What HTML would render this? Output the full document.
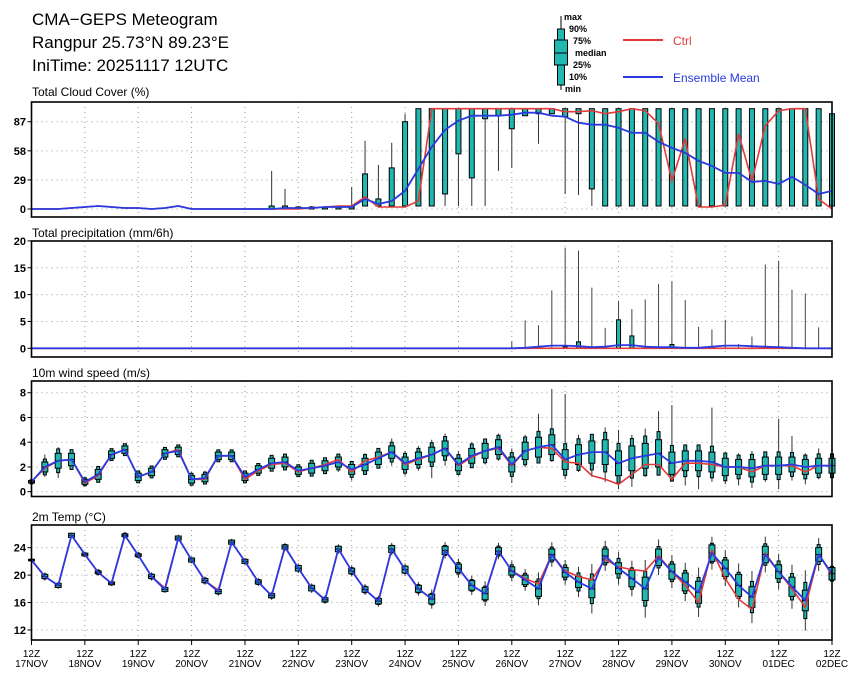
<!DOCTYPE html>
<html><head><meta charset="utf-8"><style>
body{margin:0;background:#fff;}
svg{display:block;font-family:"Liberation Sans",sans-serif;}
</style></head><body>
<svg id="chart" width="860" height="679" viewBox="0 0 860 679" xmlns="http://www.w3.org/2000/svg">
<rect width="860" height="679" fill="#fff"/>
<g font-size="17" fill="#000">
<text x="32" y="25">CMA−GEPS Meteogram</text>
<text x="32" y="48">Rangpur 25.73°N 89.23°E</text>
<text x="32" y="71">IniTime: 20251117 12UTC</text>
</g>
<g font-size="9" font-weight="bold">
<line x1="561" y1="16" x2="561" y2="90" stroke="#000" stroke-width="1"/>
<rect x="557.5" y="29" width="7" height="56" fill="#20b8b0" stroke="#000" stroke-width="1"/>
<rect x="554.5" y="40" width="13" height="25" fill="#20b8b0" stroke="#000" stroke-width="1"/>
<line x1="554.5" y1="53" x2="567.5" y2="53" stroke="#000"/>
<text x="564" y="20">max</text><text x="569" y="32">90%</text><text x="573" y="44">75%</text>
<text x="575" y="56">median</text><text x="573" y="68">25%</text><text x="569" y="80">10%</text><text x="565" y="92">min</text>
<line x1="623" y1="40" x2="663" y2="40" stroke="#e03a3a" stroke-width="2"/>
<text x="673" y="45" font-size="12" font-weight="normal" fill="#e03a3a">Ctrl</text>
<line x1="623" y1="77" x2="663" y2="77" stroke="#2a3ae0" stroke-width="2"/>
<text x="673" y="82" font-size="12" font-weight="normal" fill="#2a3ae0">Ensemble Mean</text>
</g>
<g id="panels"></g>
</svg>
<script>
// ---- data (61 steps, every 6h from 17NOV 12Z) ----
const days = ["17NOV","18NOV","19NOV","20NOV","21NOV","22NOV","23NOV","24NOV","25NOV","26NOV","27NOV","28NOV","29NOV","30NOV","01DEC","02DEC"];
const cloudMean = [0,0,0,1,2,3,2,1,1,0,1,3,0,0,0,0,0,0,0,1,1,1,2,2,2,10,5,8,18,40,62,79,88,93,93,93,94,96,96,93,92,86,84,84,81,76,76,67,61,56,48,43,36,36,27,28,25,32,24,15,18];
const cloudCtrl = [0,0,0,1,2,3,2,1,1,0,1,3,0,0,0,0,0,0,0,0,0,1,2,3,3,12,2,2,2,8,100,100,100,100,100,100,100,100,100,100,97,97,98,95,97,100,98,85,28,70,2,2,4,75,28,83,98,100,100,10,0];
const cloudLo = [0,0,0,0,0,0,0,0,0,0,0,0,0,0,0,0,0,0,0,0,0,0,0,0,0,3,3,3,3,3,3,15,55,31,90,93,80,93,95,95,92,95,20,3,3,3,3,3,3,3,3,3,3,3,3,3,3,3,3,3,3];
const cloudHi = [0,0,0,0,0,0,0,0,0,0,0,0,0,0,0,0,0,0,3,3,2,2,2,2,2,35,10,41,87,100,100,100,100,100,100,100,100,100,100,100,100,100,100,100,100,100,100,100,100,100,100,100,100,100,100,100,100,100,100,100,95];
const cloudMax = [0,0,0,0,0,0,0,0,0,0,0,0,0,0,0,0,0,0,38,20,3,3,3,3,22,68,44,66,95,100,100,100,100,100,100,100,100,100,100,100,100,100,100,100,100,100,100,100,100,100,100,100,100,100,100,100,100,100,100,100,100];
const cloudMin = [0,0,0,0,0,0,0,0,0,0,0,0,0,0,0,0,0,0,0,0,0,0,0,0,0,3,3,3,3,3,3,3,3,3,3,38,41,93,65,95,15,14,3,3,3,3,3,3,3,3,3,3,3,3,3,3,3,3,3,3,3];
const precMean = [0,0,0,0,0,0,0,0,0,0,0,0,0,0,0,0,0,0,0,0,0,0,0,0,0,0,0,0,0,0,0,0,0,0,0,0,0,0.1,0.3,0.5,0.5,0.4,0.2,0.3,0.6,0.6,0.3,0.2,0.2,0.1,0.1,0.3,0.5,0.5,0.4,0.3,0.2,0.1,0,0,0];
const precHi = [0,0,0,0,0,0,0,0,0,0,0,0,0,0,0,0,0,0,0,0,0,0,0,0,0,0,0,0,0,0,0,0,0,0,0,0,0,0,0,0,0.3,1.2,0,0,5.3,2.3,0,0,0.7,0,0,0,0,0,0,0,0,0,0,0,0];
const precMax = [0,0,0,0,0,0,0,0,0,0,0,0,0,0,0,0,0,0,0,0,0,0,0,0,0,0,0,0,0,0,0,0,0,0,0,0,1.3,5.2,4.3,10.8,18.7,18.2,11.3,3.8,8.8,7.3,9.1,12,12.5,9,4,3.5,5.3,0.8,2.2,15.6,16.3,10.9,10.2,3.9,0];
const windMean = [0.8,2.0,2.5,2.6,0.8,1.4,3.0,3.4,1.2,1.6,3.1,3.3,1.0,1.1,2.9,2.9,1.2,1.8,2.3,2.4,1.7,1.9,2.1,2.4,1.8,2.2,2.7,3.2,2.3,2.7,3.0,3.5,2.2,2.9,3.3,3.6,2.2,3.3,3.6,3.8,2.6,3.0,3.2,3.2,2.3,2.7,2.9,3.1,2.3,2.5,2.5,2.4,2.0,2.0,1.9,2.1,2.1,2.2,2.0,2.1,2.1];
const windCtrl = [0.8,1.9,2.5,2.6,0.7,1.3,3.0,3.4,1.2,1.6,3.1,3.4,1.0,1.0,2.9,2.9,1.0,1.7,2.2,2.3,1.6,1.9,2.2,2.6,1.6,2.5,2.8,3.2,2.2,2.6,3.0,3.5,2.1,2.8,3.3,3.5,2.1,3.3,3.6,3.5,2.4,2.3,1.3,1.0,0.6,1.4,2.2,2.2,1.0,2.3,2.3,2.2,2.0,2.0,1.6,2.1,2.1,2.1,1.6,2.1,2.1];
const windIqr = [0.1,0.4,0.6,0.5,0.2,0.4,0.3,0.3,0.3,0.3,0.3,0.3,0.3,0.3,0.3,0.3,0.3,0.3,0.4,0.4,0.3,0.4,0.4,0.4,0.4,0.5,0.5,0.5,0.5,0.5,0.6,0.6,0.5,0.6,0.6,0.6,0.6,0.7,0.8,0.8,0.8,0.8,0.9,1.0,1.0,1.0,1.0,1.1,0.9,0.8,0.8,0.8,0.7,0.6,0.7,0.7,0.7,0.6,0.6,0.6,0.6];
const windMax = [0.9,3.0,3.6,3.3,1.2,2.0,3.3,3.7,1.7,1.9,3.4,3.5,1.6,1.7,3.2,3.2,1.5,2.3,2.8,2.9,2.1,2.4,2.6,2.9,2.5,3.1,3.3,4.3,3.3,3.7,4.2,4.7,3.3,4.0,4.2,4.7,3.5,4.6,6.3,8.3,7.9,4.6,4.3,5.2,5.0,4.6,5.1,6.5,7.0,3.2,3.4,6.8,3.2,3.1,3.3,3.2,5.9,4.5,3.1,3.5,3.0];
const windMin = [0.7,1.2,1.1,1.9,0.5,0.9,2.6,3.0,0.8,1.2,2.8,3.0,0.6,0.6,2.6,2.6,0.8,1.4,1.8,1.9,1.3,1.3,1.5,1.6,0.9,1.4,2.0,2.1,1.3,1.7,1.1,2.1,1.3,1.9,2.2,2.5,0.7,2.0,2.6,2.4,1.0,1.6,1.2,0.8,0.2,0.4,1.2,1.3,0.8,0.5,0.2,0.8,0.6,0.5,0.3,0.8,0.2,0.9,0.6,1.0,1.0];
const tempMean = [22.2,19.8,18.5,25.8,23.0,20.4,18.8,25.8,22.9,19.8,17.9,25.4,22.2,19.2,17.6,24.8,22.0,19.0,17.0,24.1,21.0,18.1,16.4,23.8,20.6,17.9,16.2,23.8,20.8,18.0,16.5,23.6,21.0,18.5,17.3,23.5,20.6,19.3,18.0,23.0,20.4,19.0,18.0,22.8,21.0,19.5,18.0,22.6,20.5,19.0,17.5,23.2,21.0,18.5,16.8,23.0,20.5,18.3,16.3,23.0,20.2];
const tempCtrl = [22.2,19.8,18.5,25.8,23.0,20.4,18.8,25.8,22.9,19.8,18.1,25.4,22.2,19.2,17.8,24.8,22.0,19.0,17.0,24.1,21.0,18.1,16.4,23.8,20.6,17.9,16.2,23.8,20.8,18.0,16.5,23.6,21.0,18.5,17.3,23.5,20.6,19.5,18.7,23.0,20.6,19.8,19.3,22.3,21.2,20.8,20.6,22.8,20.5,18.5,16.0,23.6,19.5,16.5,15.0,23.2,20.5,18.0,15.3,23.0,20.0];
const tempIqr = [0.1,0.3,0.3,0.3,0.2,0.2,0.2,0.2,0.2,0.3,0.3,0.3,0.3,0.3,0.3,0.3,0.3,0.3,0.3,0.3,0.4,0.4,0.3,0.4,0.4,0.4,0.4,0.5,0.5,0.5,0.7,0.6,0.6,0.7,0.9,0.5,0.6,0.7,1.1,0.8,0.7,0.8,1.3,1.0,0.8,1.2,1.7,1.2,1.1,1.3,1.6,1.2,1.2,1.6,1.5,1.2,1.0,1.4,1.5,1.0,0.9];
const tempRange = [0.2,0.6,0.5,0.4,0.4,0.5,0.4,0.5,0.5,0.6,0.5,0.5,0.5,0.6,0.6,0.5,0.5,0.6,0.6,0.6,0.7,0.7,0.6,0.7,0.8,0.8,0.8,0.9,0.9,1.0,1.4,1.2,1.4,1.4,1.8,1.2,1.5,1.6,2.4,1.8,1.8,2.2,3.6,2.2,2.4,2.6,4.2,2.6,2.4,2.8,3.6,2.4,2.6,3.2,3.8,2.6,2.6,3.2,4.4,2.4,1.8];

// ---- layout ----
const X0 = 31.5, X1 = 832, NSTEP = 60;
const xs = i => X0 + (X1 - X0) * i / NSTEP;
const panels = [
  {name:"cloud", title:"Total Cloud Cover (%)", top:102, bot:217, vmin:-8, vmax:106.5, ticks:[0,29,58,87], y0:209, k:1.003, titleY:96},
  {name:"precip", title:"Total precipitation (mm/6h)", top:241, bot:357, vmin:-1.6, vmax:20, ticks:[0,5,10,15,20], y0:348.3, k:5.37, titleY:237},
  {name:"wind", title:"10m wind speed (m/s)", top:381, bot:496.5, vmin:-0.4, vmax:8.95, ticks:[0,2,4,6,8], y0:491.7, k:12.37, titleY:377},
  {name:"temp", title:"2m Temp (°C)", top:525, bot:640, vmin:10.5, vmax:27.3, ticks:[12,16,20,24], y0:575.1, k:6.86, base:20, titleY:521}
];
const NS = "http://www.w3.org/2000/svg";
const root = document.getElementById("panels");
function mk(tag, attrs, parent){ const e = document.createElementNS(NS, tag); for (const k in attrs) e.setAttribute(k, attrs[k]); (parent||root).appendChild(e); return e; }
function ys(p, v){ return p.y0 - (v - (p.base||0)) * p.k; }
function poly(p, arr){ return arr.map((v,i)=>xs(i).toFixed(1)+","+ys(p,v).toFixed(1)).join(" "); }

panels.forEach(p => {
  const g = mk("g", {});
  
  
  const t = mk("text", {x:32, y:p.titleY, "font-size":12}, g);
  t.textContent = p.title;
  
  
  // grid
  for (let d = 1; d < 15; d++) {
    const gl = mk("line", {x1:xs(d*4), x2:xs(d*4), y1:p.top, y2:p.bot, stroke:"#999", "stroke-width":1, "stroke-dasharray":"1,4"}, g);
    
    
  }
  p.ticks.forEach(tv => {
    const y = ys(p, tv);
    const gl = mk("line", {x1:X0, x2:X1, y1:y, y2:y, stroke:"#999", "stroke-width":1, "stroke-dasharray":"1,4"}, g);
    
    
    mk("line", {x1:X0-4, x2:X0, y1:y, y2:y, stroke:"#000"}, g);
    const tl = mk("text", {x:26, y:y+4, "font-size":11, "text-anchor":"end", "font-weight":"bold"}, g);
    tl.textContent = tv;
    
    
  });
  p.g = g;
});

function box(p, i, lo, hi, wlo, whi, med, w, fill){
  const g = p.g, x = xs(i);
  if (whi > wlo) mk("line", {x1:x, x2:x, y1:ys(p,whi), y2:ys(p,wlo), stroke:"#333", "stroke-width":1}, g);
  const yh = ys(p,hi), yl = ys(p,lo);
  const r = mk("rect", {x:x-w/2, y:yh, width:w, height:Math.max(1.5, yl-yh), fill:fill||"#20b8b0", stroke:"#000", "stroke-width":1}, g);
  
  
  if (med !== undefined) mk("line", {x1:x-w/2, x2:x+w/2, y1:ys(p,med), y2:ys(p,med), stroke:"#000"}, g);
}
// cloud boxes
const pc = panels[0];
cloudMean.forEach((m,i) => {
  if (cloudHi[i] > cloudLo[i] || cloudMax[i] > 0) box(pc, i, cloudLo[i], cloudHi[i], cloudMin[i], cloudMax[i], undefined, 5);
});
// precip
const pp = panels[1];
precMean.forEach((m,i) => {
  const x = xs(i);
  if (precMax[i] > 0) mk("line", {x1:x, x2:x, y1:ys(pp,precMax[i]), y2:ys(pp,0), stroke:"#444", "stroke-width":1}, pp.g);
  if (precHi[i] > 0) box(pp, i, 0, precHi[i], 0, 0, undefined, 4);
});
// wind
const pw = panels[2];
windMean.forEach((m,i) => {
  box(pw, i, m - windIqr[i]*1.6, m + windIqr[i]*1.6, windMin[i], windMax[i], undefined, 3);
  box(pw, i, m - windIqr[i], m + windIqr[i], 0, 0, m, 6);
});
// temp
const pt = panels[3];
tempMean.forEach((m,i) => {
  box(pt, i, m - tempRange[i]*0.6, m + tempRange[i]*0.6, m - tempRange[i], m + tempRange[i], undefined, 3);
  box(pt, i, m - tempIqr[i], m + tempIqr[i], 0, 0, m, 6);
});
// lines
[[pc,cloudCtrl,cloudMean],[pp,precMean.map(()=>0),precMean],[pw,windCtrl,windMean],[pt,tempCtrl,tempMean]].forEach(([p,c,m]) => {
  const l1 = mk("polyline", {points:poly(p,c), fill:"none", stroke:"#e03a3a", "stroke-width":1.6}, p.g);
  
  
  const l2 = mk("polyline", {points:poly(p,m), fill:"none", stroke:"#2a3ae0", "stroke-width":1.8}, p.g);
  
  
  const f = mk("rect", {x:X0, y:p.top, width:X1-X0, height:p.bot-p.top, fill:"none", stroke:"#000", "stroke-width":1.6}, p.g);
  
  
});
// x axis
const ax = mk("g", {"font-size":10, "text-anchor":"middle"});


days.forEach((d,j) => {
  const x = xs(j*4);
  mk("line", {x1:x, x2:x, y1:640, y2:645, stroke:"#000"}, ax);
  const a = mk("text", {x:x, y:657}, ax); a.textContent = "12Z";
  
  
  const b = mk("text", {x:x, y:667}, ax); b.textContent = d;
  
  
});
</script>
</body></html>
